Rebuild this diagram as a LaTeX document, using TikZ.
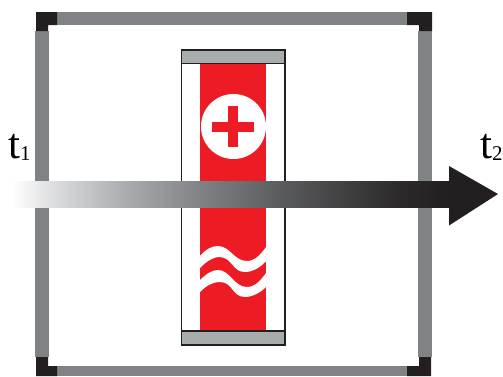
\documentclass[tikz,border=0pt]{standalone}
\usepackage{fontspec}
\setmainfont{Liberation Serif}
\definecolor{framegray}{HTML}{808285}
\definecolor{corner}{HTML}{231F20}
\definecolor{capgray}{HTML}{A7ADAD}
\definecolor{heatred}{HTML}{ED1C24}
\definecolor{gradA}{HTML}{D7D8DA}
\definecolor{gradB}{HTML}{A7A9AC}
\definecolor{gradC}{HTML}{58595B}
\definecolor{gradD}{HTML}{2B292A}
\pgfdeclarehorizontalshading{shaftfade}{100bp}{
  color(0bp)=(white); color(25.2bp)=(white); color(30.7bp)=(gradA);
  color(38.65bp)=(gradB); color(46.6bp)=(framegray); color(56.3bp)=(gradC);
  color(69.4bp)=(gradD); color(75bp)=(corner); color(100bp)=(corner)}
\tikzset{
  framebar/.style={fill=framegray,draw=none},
  cornerpiece/.style={fill=corner,draw=none},
  capbar/.style={fill=capgray,draw=corner,line width=1.1pt},
  wave/.style={fill=white,draw=none},
  tlabel/.style={inner sep=0pt,anchor=base west,font=\fontsize{43}{43}\selectfont}
}
\newcommand{\subtxt}[1]{\raisebox{-2pt}{\fontsize{21}{21}\selectfont #1}}
\begin{document}
\begin{tikzpicture}[x=1pt,y=-1pt]
\useasboundingbox (0,0) rectangle (503,376);
% frame
\fill[framebar] (57,12) rectangle (407,25);
\fill[framebar] (57,366) rectangle (407,376);
\fill[framebar] (35,31) rectangle (49,357);
\fill[framebar] (418,31) rectangle (432,357);
% corners
\fill[cornerpiece] (36,12) -- (57,12) -- (57,25) -- (48,25) -- (48,31) -- (36,31) -- cycle;
\fill[cornerpiece] (432,12) -- (407,12) -- (407,25) -- (419,25) -- (419,31) -- (432,31) -- cycle;
\fill[cornerpiece] (36,376) -- (57,376) -- (57,366) -- (48,366) -- (48,357) -- (36,357) -- cycle;
\fill[cornerpiece] (431,376) -- (407,376) -- (407,366) -- (419,366) -- (419,357) -- (431,357) -- cycle;
% device
\draw[fill=white,draw=corner,line width=1.1pt] (181.5,50) rectangle (285,345);
\fill[heatred] (200,64) rectangle (266,331);
\draw[capbar] (181.5,50) rectangle (285,63.5);
\draw[capbar] (181.5,331) rectangle (285,345);
% plus
\fill[white] (233.5,126.5) circle (32.5);
\fill[heatred] (212,122) rectangle (253.5,131.5);
\fill[heatred] (228,105.5) rectangle (238,147);
% waves
\fill[wave] (200,256) .. controls (206,249) and (212,246) .. (218,246) .. controls (230,246) and (234,261) .. (247,261) .. controls (255,261) and (261,254) .. (266,247)
 -- (266,261) .. controls (261,267) and (253,272) .. (245,272) .. controls (232,272) and (233,258) .. (220,257) .. controls (212,257) and (206,262) .. (200,268) -- cycle;
\fill[wave] (200,280) .. controls (206,274) and (212,270) .. (218,270) .. controls (230,270) and (234,287) .. (247,287) .. controls (255,287) and (261,280) .. (266,273)
 -- (266,287) .. controls (261,292) and (253,297) .. (245,297) .. controls (232,297) and (233,282) .. (220,282) .. controls (212,282) and (206,286) .. (200,292) -- cycle;
% arrow
\shade[shading=shaftfade,draw=none] (10,181.5) rectangle (449.5,207);
\fill[corner] (449,166) -- (498,194) -- (449,225.5) -- cycle;
% labels
\node[tlabel] (tone) at (8,158) {t\subtxt{1}};
\node[tlabel] (ttwo) at (480,158) {t\subtxt{2}};
\end{tikzpicture}
\end{document}
